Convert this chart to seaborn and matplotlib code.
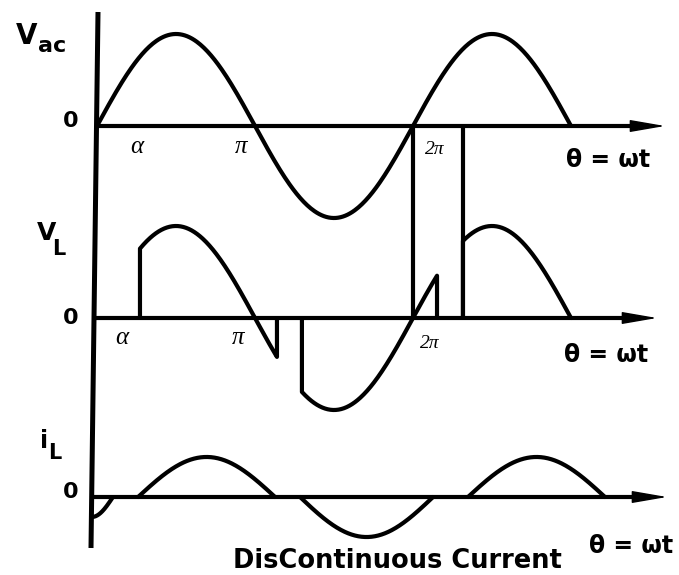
import numpy as np
import pandas as pd
import matplotlib
matplotlib.use("Agg")
import matplotlib.pyplot as plt
import seaborn as sns

# ---------------- waveform data (angles in multiples of pi) ----------------
vac_span = [0.0, 3.0]           # supply voltage over three half-cycles
vac_amp = 1.0

vl_on = [0.272, 1.297, 2.316]   # firing instants (load voltage switches on)
vl_off = [1.139, 2.152, 3.0]    # extinction instants (load current reaches zero)
vl_amp = 1.0

il_start = [-0.165, 0.26, 1.285, 2.348]   # load-current pulses
il_end = [0.101, 1.127, 2.127, 3.215]
il_peak = [-0.217, 0.435, -0.435, 0.435]

link_angles = [2.0, 2.316]      # verticals tying the Vac axis to the V_L axis

angle_labels = ["α", "π", "2π"]
axis_label = "θ = ωt"
title = "DisContinuous Current"

# ---------------- layout (pixels of a 679 x 575 canvas) ----------------
W, H = 679, 575
X0, PI_PX, UNIT = 97.0, 158.0, 92.0
BASE_PX = {"vac": 126, "vl": 318, "il": 497}


def off(panel):
    return (BASE_PX["vac"] - BASE_PX[panel]) / UNIT


def axis_x(py):
    # the drawn ordinate leans slightly from top to bottom
    px = 98 + (91 - 98) * (py - 12) / (548 - 12)
    return (px - X0) / PI_PX


def to_theta(px):
    return (px - X0) / PI_PX


rows = []


def add(name, xs, ys):
    for x, y in zip(xs, ys):
        rows.append({"seg": name, "theta": x, "v": y})


# supply voltage
t = np.linspace(vac_span[0], vac_span[1], 400)
add("vac", t, vac_amp * np.sin(np.pi * t) + off("vac"))

# load voltage: follows the supply while the thyristors conduct
for k, (a, b) in enumerate(zip(vl_on, vl_off)):
    t = np.linspace(a, b, 200)
    y = vl_amp * np.sin(np.pi * t)
    xs = np.concatenate([[a], t, [b]])
    ys = np.concatenate([[0.0], y, [0.0]]) + off("vl")
    add(f"vl{k}", xs, ys)

# links between the two upper axes
for k, a in enumerate(link_angles):
    add(f"link{k}", [a, a], [off("vac"), off("vl")])

# load current pulses
lo = axis_x(BASE_PX["il"] + 20)
for k, (a, b, p) in enumerate(zip(il_start, il_end, il_peak)):
    t = np.linspace(max(a, lo), b, 200)
    y = p * np.sin(np.pi * (t - a) / (b - a))
    add(f"il{k}", t, y + off("il"))

df = pd.DataFrame(rows)

sns.set_theme(style="white")
fig = plt.figure(figsize=(W / 100, H / 100), dpi=100)
ax = fig.add_axes([0, 0, 1, 1])
ax.set_xlim(to_theta(0), to_theta(W))
ax.set_ylim((BASE_PX["vac"] - H) / UNIT, BASE_PX["vac"] / UNIT)

sns.lineplot(data=df, x="theta", y="v", units="seg", estimator=None,
             sort=False, color="black", lw=3.0, ax=ax)

# ordinate
ax.plot([axis_x(12), axis_x(548)],
        [(BASE_PX["vac"] - 12) / UNIT, (BASE_PX["vac"] - 548) / UNIT],
        color="black", lw=3.6, solid_capstyle="butt")

# abscissae: thick shaft plus a slender filled arrow head
tips = {"vac": 663, "vl": 655, "il": 665}
for panel, tip in tips.items():
    y = off(panel)
    ax.plot([axis_x(BASE_PX[panel]), to_theta(tip - 20)], [y, y],
            color="black", lw=3.0, solid_capstyle="butt")
    ax.annotate("", xy=(to_theta(tip + 2), y), xytext=(to_theta(tip - 45), y),
                arrowprops=dict(arrowstyle="-|>,head_length=2.2,head_width=0.38",
                                color="black", lw=1.0, mutation_scale=10,
                                shrinkA=0, shrinkB=0))
ax.axis("off")


def ftext(px, py, s, **kw):
    fig.text(px / W, 1 - py / H, s, **kw)


sans = dict(family="DejaVu Sans", weight="bold", color="black")
serif = dict(family="Liberation Serif", style="italic", color="black")

# panel names
ftext(16, 44, "V", fontsize=20, ha="left", va="baseline", **sans)
ftext(38, 52, "ac", fontsize=16, ha="left", va="baseline", **sans)
ftext(37, 240, "V", fontsize=18, ha="left", va="baseline", **sans)
ftext(52, 255, "L", fontsize=15, ha="left", va="baseline", **sans)
ftext(40, 448, "i", fontsize=17, ha="left", va="baseline", **sans)
ftext(48, 459, "L", fontsize=15, ha="left", va="baseline", **sans)

# zero marks
for py in (121, 318, 492):
    ftext(79, py, "0", fontsize=16, ha="right", va="center", **sans)

# angle labels
for (px, py), s, fs in zip([(137, 147), (241, 147), (435, 149)],
                           angle_labels, [18, 18, 14]):
    ftext(px, py, s, fontsize=fs, ha="center", va="center", **serif)
for (px, py), s, fs in zip([(122, 338), (238, 338), (430, 343)],
                           angle_labels, [18, 18, 14]):
    ftext(px, py, s, fontsize=fs, ha="center", va="center", **serif)

# abscissa names
for px, py in [(608, 160), (606, 355), (631, 546)]:
    ftext(px, py, axis_label, fontsize=17, ha="center", va="center", **sans)

ftext(397, 561, title, fontsize=18.5, ha="center", va="center", **sans)

fig.savefig("out.png", dpi=100, facecolor="white")
